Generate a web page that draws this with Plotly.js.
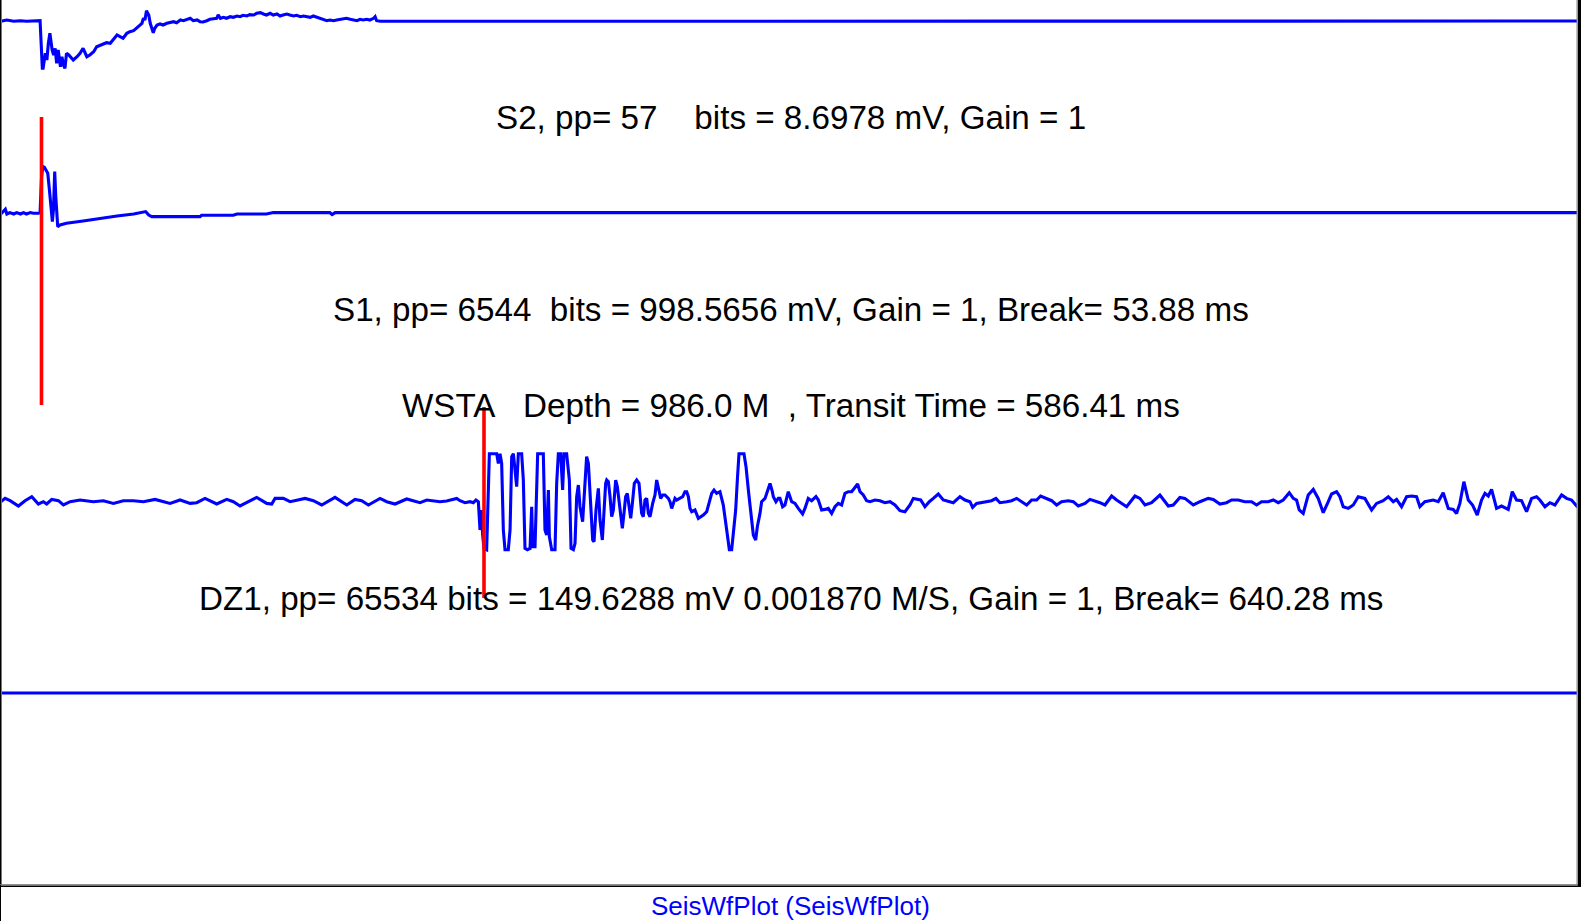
<!DOCTYPE html>
<html>
<head>
<meta charset="utf-8">
<script src="https://cdn.plot.ly/plotly-3.0.1.min.js"></script>
<style>
html,body{margin:0;padding:0;background:#fff;}
#chart{width:1581px;height:921px;}
</style>
</head>
<body>
<div id="chart"></div>
<script>
// ---- Data (time in ms, amplitude = trace deflection, up positive) ----
const s2Time = [0,8,17,26,34,43,52,55,56,59,61,63,65,68,70,72,74,76,79,81,83,85,87,90,92,96,101,105,109,112,114,118,123,127,132,136,140,145,149,154,158,162,167,171,176,180,185,187,189,191,193,196,198,200,202,204,207,211,215,220,224,229,233,238,242,246,251,255,260,264,268,273,277,282,286,288,291,295,299,304,308,313,317,321,326,330,335,339,344,348,352,357,361,366,370,374,379,383,388,392,397,401,405,410,414,419,423,427,432,436,441,445,450,454,458,463,467,472,476,480,485,489,494,496,498,503,2094];
const s2Amp = [-0.3,1.0,-0.3,0.3,-0.3,0.3,0.3,
-47.3,-47.3,-32.3,-39.0,-22.3,-12.3,-29.0,-34.0,-27.3,-42.3,-29.0,-45.7,-35.7,-44.0,-47.3,-32.3,-34.0,-35.7,
-39.0,-35.7,-32.3,-27.3,-32.3,-35.7,-34.0,-30.7,-25.7,-24.0,-22.3,-21.7,-22.3,-19.0,-14.0,-15.7,-17.3,-12.3,-10.7,-9.7,-7.3,-4.0,-2.3,2.7,1.0,10.3,6.0,-2.3,-7.3,-11.7,-7.3,-4.0,
-3.0,-4.0,-2.3,-1.7,-0.7,-1.7,1.0,0.3,1.7,2.7,0.3,1.0,-0.7,-1.0,0.3,1.7,2.3,2.7,
6.0,
2.7,3.7,2.7,4.3,3.7,5.0,4.3,5.7,5.0,6.3,6.0,7.7,8.3,7.0,6.0,7.7,6.0,7.0,5.0,6.0,7.0,6.0,5.0,5.7,4.3,5.0,4.3,3.7,5.0,3.7,2.7,1.7,0.3,1.0,0.3,1.0,1.7,2.0,2.7,1.7,1.0,0.3,1.7,1.0,1.7,1.0,2.7,
4.3,0.3,-0.3,
0];

const s1Time = [0,1,6,8,12,17,21,26,30,34,39,43,50,52,54,55.5,57.7,60,62.2,64.4,66.6,68.3,69.7,70.6,71.4,72.8,74.1,75.4,78.5,87,109,132,154,176,189,192,196,200,220,264,266,308,313,352,361,436,439,443,476,2094];
const s1Amp = [1.7,0,4,-0.7,0.7,-0.7,0.7,-0.7,0.7,-0.7,0.7,0,0,0.7,36.7,46.7,46,43.3,40,23.3,3.3,-8.3,3.3,40,41.7,16.7,-6.7,-13.3,-11.7,-10,-7.7,-5,-2.7,-0.7,1,1.7,-1.7,-3.3,-3.3,-3.3,-2,-2,-0.7,-0.7,0.7,0.7,-1.3,0.7,0.7,0.7];

const dz1Time = [
0,5.6,12.3,23.3,32.1,41.0,49.8,56.4,60.8,67.5,76.3,82.9,91.8,105.0,122.7,135.9,149.2,162.4,175.7,188.9,204.4,211.0,224.3,237.5,250.8,259.6,270.6,286.1,299.4,308.2,317.0,328.1,339.1,352.4,359.0,363.4,374.4,383.3,389.9,403.2,414.2,425.2,442.9,449.5,458.4,469.4,478.2,487.1,502.5,511.4,522.4,537.9,555.5,564.4,577.6,
582.0,590.8,599.7,604.1,608.5,615.1,621.8,626.2,629.7,632.8,
635.0,637.2,638.5,640.3,643.8,646.0,647.4,657.1,659.3,661.5,
663.7,665.9,668.1,672.5,674.8,677.0,679.2,681.4,683.6,685.8,
690.2,692.4,694.6,697.7,701.3,703.5,704.8,707.9,710.1,711.4,
718.9,721.1,723.3,725.6,726.9,730.0,734.4,736.6,738.8,741.9,
744.5,746.3,749.8,753.4,755.6,758.7,760.9,763.1,765.3,767.5,
771.0,772.8,775.0,776.3,778.6,780.8,784.3,786.1,788.7,791.8,
794.0,797.1,799.8,801.5,802.9,805.1,807.3,809.5,811.7,814.8,
817.0,820.5,823.6,825.8,828.0,830.2,832.4,834.7,836.9,839.5,
842.6,845.7,849.2,851.4,853.6,855.9,858.1,860.3,863.8,866.9,
869.1,871.3,874.4,877.1,880.1,884.6,886.8,889.0,891.2,893.4,
895.6,900.0,903.6,906.6,908.9,911.1,913.3,915.5,919.9,924.3,
928.7,931.0,935.4,939.8,942.0,945.1,948.6,953.0,957.4,961.9,
965.4,968.5,970.7,973.8,976.0,978.2,984.8,987.5,990.6,993.7,
997.2,1000.3,1002.5,1006.0,1008.2,1012.7,1015.8,1019.3,1022.4,1023.7,
1027.2,1030.3,
1032.5,1036.0,1039.1,1043.5,1048.0,1052.4,1056.8,1062.5,1065.6,1070.0,
1074.5,1080.2,1083.3,1087.7,1092.1,1096.5,1101.0,1105.4,1109.8,1114.2,
1118.6,1123.0,1127.5,1131.9,1135.4,1138.5,1142.9,1147.3,1151.8,1158.4,
1165.0,1171.6,1178.3,1184.9,1191.5,1198.1,1204.8,1209.2,1213.6,1218.9,
1224.6,1230.4,1235.7,1242.3,1248.9,1255.6,1262.2,1271.0,1277.6,1284.3,
1287.8,1293.1,1299.7,1306.4,1313.0,1318.7,1324.0,1332.9,1339.5,1346.1,
1352.7,1359.4,1366.0,1372.6,1377.9,1385.9,1392.5,1399.1,1405.7,1414.6,
1421.2,1427.8,1436.7,1443.3,1449.9,1456.5,1463.2,1472.0,1478.6,1485.2,
1491.9,1502.9,1509.5,1516.2,1525.0,1536.0,1540.5,1547.1,1553.7,
1562.5,1569.1,1580.2,1589.0,1600.0,1606.7,1615.5,1624.3,1631.0,1639.8,
1648.6,1657.5,1664.1,1670.7,1679.5,1686.2,1692.8,1699.4,1707.4,1712.7,
1717.1,1720.6,1725.9,1732.5,1739.2,1745.8,1752.4,1759.1,1763.5,1770.1,
1774.5,1778.9,1785.6,1792.2,1798.8,1807.6,1816.5,1823.1,1831.9,1838.6,
1845.2,1849.6,1856.2,1862.9,1869.5,1876.1,1880.5,1887.1,1898.2,1904.8,
1911.4,1918.1,1924.7,1929.1,1933.5,1938.8,1944.6,1950.3,1956.5,1962.2,
1966.7,1971.1,1975.5,1982.1,1988.7,1997.6,2002.9,2008.6,2015.2,2021.9,
2028.5,2035.1,2039.5,2046.2,2052.8,2059.4,2068.3,2074.9,2081.5,2088.2,
2094];
const dz1Amp = [
0,3.3,1,-4.3,1,5,-2.3,0,-2.3,2.3,1,-3.3,0,1.7,0,1,-1.7,1,1,0,2.3,1,-1.7,1.7,-1.7,-1,3.3,-2.3,2.3,0,-4.3,0,4.3,-1.7,-2.3,3.3,3.3,0,1,3.3,1,-3.3,4.3,1,-3.3,2.3,1,-3.3,3.3,0,-2.3,2.7,-1,1.7,1,
0,0.7,2.3,3.3,1,-1,0,-1,1.7,0,
-28.3,-8.3,-33.3,-46.7,-48,5,48,48,38.3,48,
38.3,-28.3,-48,-48,-28.3,45,48,31.7,15,48,
48,21.7,-46.7,-48,-46.7,-5,-45,-45,5,48,
48,-28.3,-33.3,11.7,-35,-48,-48,18.3,48,48,
11.7,48,48,21.7,-46.7,-48,-41.7,5,16.7,-5,
-20,5,38.3,45,38.3,11.7,-38.3,-40,-8.3,13.3,
-18.3,-38.3,-5,18.3,21.7,20,5,-15,-8.3,21.7,
15,-8.3,-26.7,-11.7,5,8.3,-5,-16.7,-1.7,18.3,
21.7,18.3,-11.7,-15,1.7,3.3,-11.7,-15,-1.7,6.7,
21.7,13.3,3.3,6.7,6.7,3.3,0,-6.7,-1.7,3.3,
1.7,3.3,5,10,10,5,-6.7,-10,-8.3,-16.7,
-15,-13.3,-10,1.7,8.3,11.7,8.3,10,-3.3,-28.3,
-48,-48,-28.3,-8.3,21.7,48,48,35,11.7,-11.7,
-33.3,-38.3,-25,-11.7,0,3.3,11.7,18.3,10,5,
0,3.3,
3.3,-5,-3.3,10,0,-1.7,-6.7,-12.3,-6.7,3.3,
1,5,1.7,-8.3,-7.7,-6.7,-11.7,-5,-1.7,-3.3,
8.3,10,10,15,17.7,10,6.7,1,0,1.7,
1,-1,0,-3.3,-9,-10,-3.3,3.3,2.3,1.7,
-5,0,3.3,7.7,1.7,0,-1,5,1.7,0,
-5.7,-1.7,-1,0,1,3.3,-1,0,1,3.3,
0,-3.3,1.7,1.7,5.7,3.3,1,-3.3,0,1,
0,-4.3,-1.7,2.3,1,-1,-3.3,5.7,1.7,-1.7,
-5,5.7,3.3,-3.3,-1,6.7,1.7,-4.3,-3.3,
4.3,3.3,-3.3,0,3.3,2.3,-2.3,-1,1.7,1.7,
0,0,-3.3,0,0,1.7,-1,1.7,9,3.3,
1.7,-8.3,-11.7,6.7,12.3,3.3,-11,0,7.7,10,
5,-5,-6.7,-3.3,5,3.3,-8.3,-1.7,1,5,
0,2.3,-5,5,5.7,5,-5,0,1.7,0,
9,-6.7,-7.7,-11.7,-1.7,20,1.7,-3.3,-13.3,1.7,
8.3,5.7,12.3,-6.7,-4.3,-7.7,10,1.7,1,-10,
3.3,5,1.7,-5,-1,-3.3,6.7,3.3,1.7,-4.3,
0];

const ch4Time = [0, 2094];
const ch4Amp = [0, 0];

const breakTimes = [53.88, 640.28];   // S1 break, DZ1 break (ms)

const labelTexts = [
  "S2, pp= 57\u00a0\u00a0\u00a0\u00a0bits = 8.6978 mV, Gain = 1",
  "S1, pp= 6544\u00a0\u00a0bits = 998.5656 mV, Gain = 1, Break= 53.88 ms",
  "WSTA\u00a0\u00a0\u00a0Depth = 986.0 M\u00a0\u00a0, Transit Time = 586.41 ms",
  "DZ1, pp= 65534 bits = 149.6288 mV 0.001870 M/S, Gain = 1, Break= 640.28 ms"
];
const footerText = "SeisWfPlot (SeisWfPlot)";

// ---- Layout geometry ----
const W = 1581, H = 921;
const mL = 0, mR = 4, mT = 0, mB = 36;
const PW = W - mL - mR, PH = H - mT - mB;   // 1577 x 885
const px2xp = px => (px - mL) / PW;
const py2yp = py => (PH - (py - mT)) / PH;
const baselines = [21, 213.3, 501.7, 693];   // pixel rows of trace zero lines
const axRange = b => [b - PH, b];            // 1 amplitude unit = 1 px

const blue = '#0000ff';
const lineW = 3.1;
const mk = (t, a, ax) => ({x: t, y: a, yaxis: ax, type: 'scatter', mode: 'lines',
  line: {color: blue, width: lineW}, hoverinfo: 'skip', showlegend: false});

const data = [
  mk(s2Time, s2Amp, 'y'),
  mk(s1Time, s1Amp, 'y2'),
  mk(dz1Time, dz1Amp, 'y3'),
  mk(ch4Time, ch4Amp, 'y4')
];

const hid = {visible: false, showgrid: false, zeroline: false, fixedrange: true};
const layout = {
  width: W, height: H,
  margin: {l: mL, r: mR, t: mT, b: mB, pad: 0},
  paper_bgcolor: '#ffffff', plot_bgcolor: '#ffffff',
  showlegend: false,
  font: {family: '"Liberation Sans", Arial, sans-serif', color: '#000'},
  xaxis: Object.assign({range: [-1.1, 2088.7]}, hid),
  yaxis: Object.assign({range: axRange(baselines[0])}, hid),
  yaxis2: Object.assign({range: axRange(baselines[1]), overlaying: 'y'}, hid),
  yaxis3: Object.assign({range: axRange(baselines[2]), overlaying: 'y'}, hid),
  yaxis4: Object.assign({range: axRange(baselines[3]), overlaying: 'y'}, hid),
  shapes: [
    // break markers
    {type: 'line', xref: 'x', yref: 'paper', x0: breakTimes[0], x1: breakTimes[0],
     y0: py2yp(405), y1: py2yp(117), line: {color: '#ff0000', width: 3.6}},
    {type: 'line', xref: 'x', yref: 'paper', x0: breakTimes[1], x1: breakTimes[1],
     y0: py2yp(598), y1: py2yp(407), line: {color: '#ff0000', width: 3.6}},
    // frame
    {type: 'line', xref: 'paper', yref: 'paper', x0: px2xp(0.5), x1: px2xp(0.5),
     y0: py2yp(921), y1: 1, line: {color: '#000', width: 1}},
    {type: 'line', xref: 'paper', yref: 'paper', x0: px2xp(1.5), x1: px2xp(1.5),
     y0: py2yp(885), y1: 1, line: {color: '#777', width: 1}},
    {type: 'line', xref: 'paper', yref: 'paper', x0: px2xp(0), x1: px2xp(1578),
     y0: py2yp(884.7), y1: py2yp(884.7), line: {color: '#777', width: 1}},
    {type: 'line', xref: 'paper', yref: 'paper', x0: px2xp(0), x1: px2xp(1581),
     y0: py2yp(886.3), y1: py2yp(886.3), line: {color: '#000', width: 1.6}},
    {type: 'line', xref: 'paper', yref: 'paper', x0: px2xp(1577), x1: px2xp(1577),
     y0: py2yp(885), y1: 1, line: {color: '#888', width: 1}},
    {type: 'rect', xref: 'paper', yref: 'paper', x0: px2xp(1577.8), x1: px2xp(1581.5),
     y0: py2yp(887), y1: 1.001, fillcolor: '#000', line: {width: 0}}
  ],
  annotations: [
    ...[118, 309.5, 405.3, 598].map((py, i) => ({
      text: labelTexts[i], xref: 'paper', yref: 'paper',
      x: px2xp(790.5), y: py2yp(py), xanchor: 'center', yanchor: 'middle',
      showarrow: false, font: {size: 33.2, color: '#000'}
    })),
    {text: footerText, xref: 'paper', yref: 'paper', x: px2xp(790.5), y: py2yp(905.5),
     xanchor: 'center', yanchor: 'middle', showarrow: false,
     font: {size: 26, color: blue}}
  ]
};

Plotly.newPlot('chart', data, layout, {displayModeBar: false, staticPlot: true});
</script>
</body>
</html>
